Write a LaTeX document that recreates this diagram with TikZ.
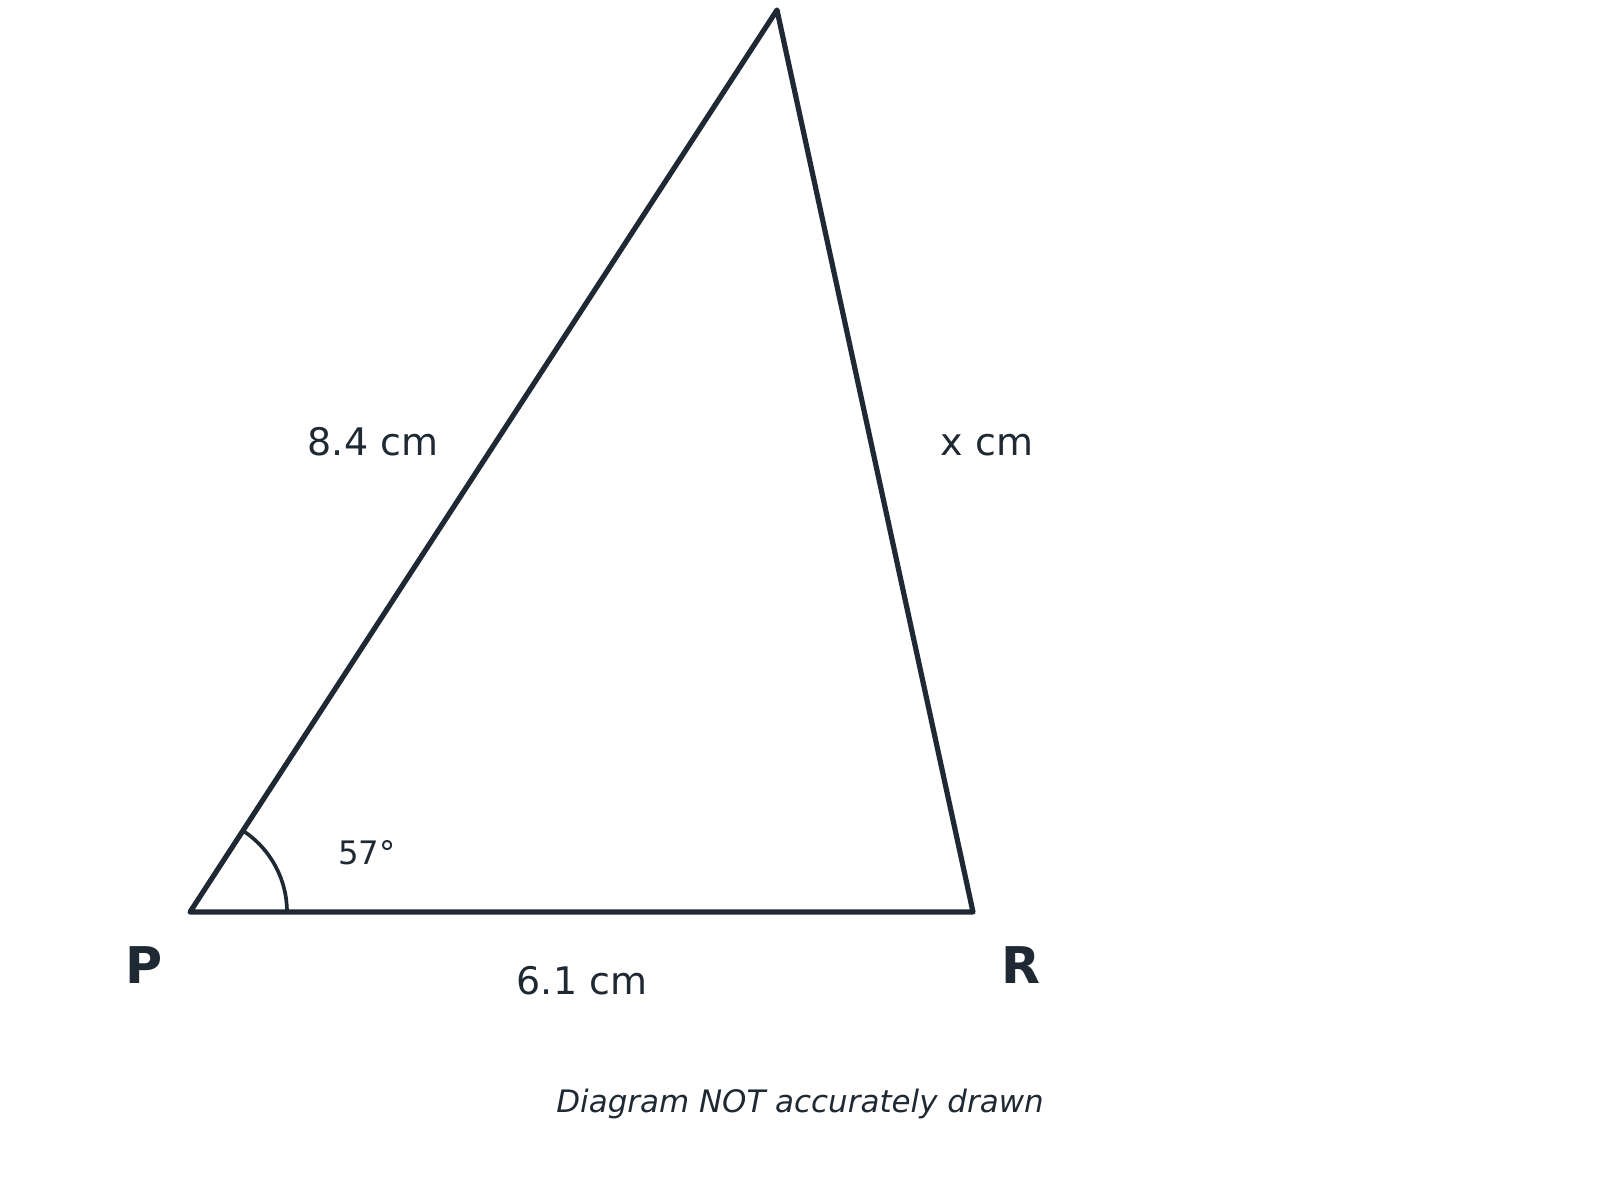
\documentclass[tikz,border=0pt]{standalone}
\usepackage{fontspec}
\setmainfont{DejaVu Sans}
\usepackage{xcolor}
\definecolor{colorEdge}{HTML}{1F2933}
\usepackage{tikz}
\usetikzlibrary{positioning}
\tikzset{side/.style={line width=3.7pt, line join=round, colorEdge},
  lengthlabel/.style={text=colorEdge, font=\fontsize{27}{32}\selectfont},
  vertexlabel/.style={text=colorEdge, font=\fontsize{36}{42}\selectfont\bfseries}}

\begin{document}
\begin{tikzpicture}[x=0.025cm, y=-0.025cm]
\useasboundingbox (0,0) rectangle (1600,1200);
\coordinate (P) at (190,912);
\coordinate (Q) at (777,10);
\coordinate (R) at (973,912);
\draw[side] (P) -- (Q) -- (R) -- cycle;
\draw[colorEdge, line width=2.6pt] (P) ++ (97,0) arc (0:-57:97);
\node[lengthlabel] (lPQ) at (373,442) {8.4 cm};
\node[lengthlabel] (lQR) at (987,445) {x cm};
\node[lengthlabel] (lPR) at (582,981) {6.1 cm};
\node[text=colorEdge, font=\fontsize{23}{28}\selectfont] (angP) at (367,853) {57°};
\node[vertexlabel] (nP) at (144,965) {P};
\node[vertexlabel] (nR) at (1021,965) {R};
\node[text=colorEdge, font=\fontsize{22}{26}\selectfont\itshape] (note) at (800,1104) {Diagram NOT accurately drawn};
\end{tikzpicture}
\end{document}
